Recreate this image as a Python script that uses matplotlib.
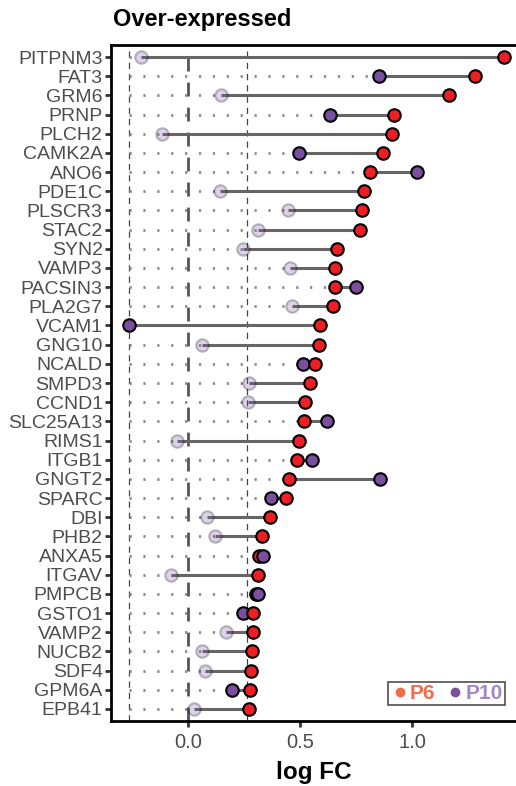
import matplotlib.pyplot as plt
from matplotlib.lines import Line2D

plt.rcParams['font.family'] = ['Liberation Sans', 'DejaVu Sans']

genes = ['PITPNM3', 'FAT3', 'GRM6', 'PRNP', 'PLCH2', 'CAMK2A', 'ANO6', 'PDE1C',
         'PLSCR3', 'STAC2', 'SYN2', 'VAMP3', 'PACSIN3', 'PLA2G7', 'VCAM1', 'GNG10',
         'NCALD', 'SMPD3', 'CCND1', 'SLC25A13', 'RIMS1', 'ITGB1', 'GNGT2', 'SPARC',
         'DBI', 'PHB2', 'ANXA5', 'ITGAV', 'PMPCB', 'GSTO1', 'VAMP2', 'NUCB2', 'SDF4',
         'GPM6A', 'EPB41']
p6 = [1.408, 1.281, 1.165, 0.921, 0.911, 0.872, 0.812, 0.787, 0.775, 0.769,
      0.665, 0.656, 0.656, 0.649, 0.589, 0.585, 0.567, 0.545, 0.522, 0.519,
      0.494, 0.487, 0.451, 0.436, 0.365, 0.330, 0.318, 0.311, 0.305, 0.292,
      0.289, 0.286, 0.281, 0.278, 0.274]
p10 = [-0.211, 0.851, 0.147, 0.634, -0.118, 0.497, 1.021, 0.144, 0.445, 0.314,
       0.244, 0.455, 0.748, 0.463, -0.263, 0.064, 0.513, 0.271, 0.266, 0.618,
       -0.048, 0.555, 0.857, 0.371, 0.085, 0.121, 0.336, -0.074, 0.311, 0.244,
       0.170, 0.064, 0.077, 0.195, 0.027]
# is the P10 value significant (solid) or not (faded)
p10_sig = [False, True, False, True, False, True, True, False, False, False,
           False, False, True, False, True, False, True, False, False, True,
           False, True, True, True, False, False, True, False, True, True,
           False, False, False, True, False]

THRESH = 0.263
RED = '#EE1F24'
PURPLE = '#7B4FA0'

fig = plt.figure(figsize=(5.16, 7.86), dpi=100)
ax = fig.add_axes([0.2151, 0.0827, 0.785, 0.86])

n = len(genes)
ys = [n - i for i in range(n)]

ax.axvline(-THRESH, color='#444444', lw=0.9, ls=(0, (5, 4)), zorder=1)
ax.axvline(THRESH, color='#444444', lw=0.9, ls=(0, (5, 4)), zorder=1)
ax.axvline(0, color='#555555', lw=2.0, ls=(0, (5, 4)), zorder=1)

for y, a, b, sig in zip(ys, p6, p10, p10_sig):
    lo, hi = min(a, b), max(a, b)
    if lo > -THRESH:
        ax.plot([-THRESH, lo], [y, y], color='#8a8a8a', lw=2.0,
                ls=(0, (0.8, 4.2)), zorder=2)
    ax.plot([lo, hi], [y, y], color='#666666', lw=2.2, solid_capstyle='butt', zorder=3)
    zr = 5 if a >= b else 4
    ax.plot(a, y, 'o', ms=9, mfc=RED, mec='black', mew=1.5, zorder=zr)
    if sig:
        ax.plot(b, y, 'o', ms=9, mfc=PURPLE, mec='black', mew=1.5, zorder=9 - zr)
    else:
        ax.plot(b, y, 'o', ms=9, mfc=PURPLE, mec='black', mew=1.5, alpha=0.25, zorder=4)

ax.set_xlim(-0.344, 1.464)
ax.set_ylim(0.374, n + 0.626)
ax.set_yticks(ys)
ax.set_yticklabels(genes)
ax.set_xticks([0.0, 0.5, 1.0])
ax.set_xticklabels(['0.0', '0.5', '1.0'])
ax.tick_params(axis='y', labelsize=14, labelcolor='#4D4D4D', color='#333333',
               length=4, width=2, pad=2)
ax.tick_params(axis='x', labelsize=14.5, labelcolor='#4D4D4D', color='#333333',
               length=4, width=2, pad=5)

for s in ['left', 'bottom', 'top']:
    ax.spines[s].set_linewidth(2)
    ax.spines[s].set_color('black')
ax.spines['right'].set_visible(False)

ax.set_xlabel('log FC', fontsize=17.5, fontweight='bold', labelpad=6)
fig.text(0.219, 0.975, 'Over-expressed', fontsize=17, fontweight='bold',
         ha='left', va='center')

handles = [Line2D([], [], ls='none', marker='o', ms=6, color='#F4694A'),
           Line2D([], [], ls='none', marker='o', ms=6, color=PURPLE)]
leg = ax.legend(handles, ['P6', 'P10'], ncol=2, loc='lower right',
                bbox_to_anchor=(0.973, 0.024), borderaxespad=0,
                frameon=True, fancybox=False, edgecolor='#222222',
                prop={'weight': 'bold', 'size': 15}, labelcolor=['#F26A4F', '#A586C8'],
                handletextpad=0.05, columnspacing=0.5, handlelength=0.9,
                borderpad=0.1, handleheight=0.6)
leg.get_frame().set_linewidth(1.2)

fig.savefig('out.png', dpi=100)
